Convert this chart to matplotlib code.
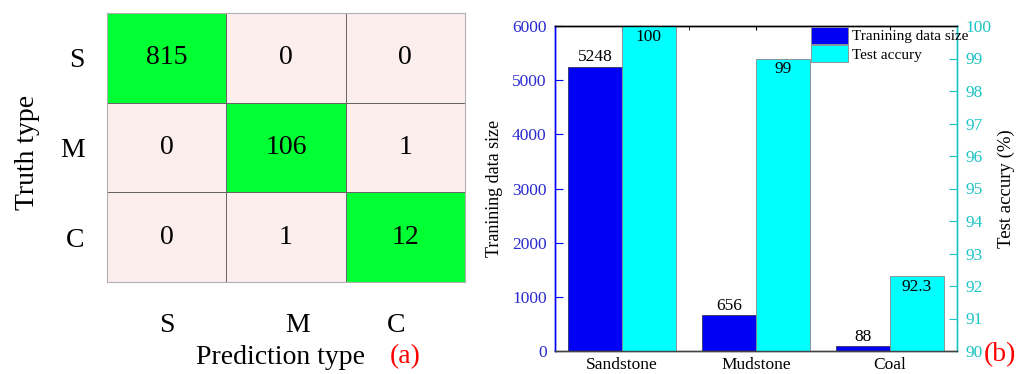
import numpy as np
import matplotlib
matplotlib.use("Agg")
import matplotlib.pyplot as plt
from matplotlib.colors import ListedColormap
from matplotlib.patches import Patch

plt.rcParams['font.family'] = ['Liberation Serif', 'DejaVu Serif']

# confusion matrix of the classifier (rows: truth, cols: prediction)
classes = ['S', 'M', 'C']
confusion = np.array([[815, 0, 0],
                      [0, 106, 1],
                      [0, 1, 12]])

# per-lithology training size and test accuracy
lithology = ['Sandstone', 'Mudstone', 'Coal']
train_size = [5248, 656, 88]
test_acc = [100, 99, 92.3]

blue = '#0000f5'
cyan = '#00ffff'
blue_text = '#2a2ad0'
cyan_text = '#1cc4c4'

fig = plt.figure(figsize=(10.26, 3.74), dpi=100)

# ---- (a) confusion matrix ----
ax1 = fig.add_axes([107 / 1026, 1 - 282 / 374, 358 / 1026, 269 / 374])
correct = np.eye(len(classes))
cmap = ListedColormap(['#fdeeee', '#00ff33'])
ax1.pcolormesh(correct, cmap=cmap, edgecolors='#666666', linewidth=0.6)
ax1.set_xlim(0, 3)
ax1.set_ylim(3, 0)

for i in range(len(classes)):
    for j in range(len(classes)):
        ax1.text(j + 0.5, i + 0.5, str(confusion[i, j]), ha='center', va='center',
                 fontsize=20, color='black')

ax1.set_yticks(np.arange(len(classes)) + 0.5)
ax1.set_yticklabels(classes, fontsize=20)
ax1.set_xticks([0.5, 1.6, 2.42])
ax1.set_xticklabels(classes, fontsize=20)
ax1.tick_params(length=0)
ax1.tick_params(axis='y', pad=16)
ax1.tick_params(axis='x', pad=22)
for sp in ax1.spines.values():
    sp.set_color('#b0b0b0')
    sp.set_linewidth(0.8)

fig.text(28 / 1026, 1 - 152 / 374, 'Truth type', rotation=90, ha='center', va='center',
         fontsize=20)
fig.text(281 / 1026, 1 - 357 / 374, 'Prediction type', ha='center', va='center', fontsize=20)
fig.text(405 / 1026, 1 - 357 / 374, '(a)', ha='center', va='center', fontsize=20, color='red')

# ---- (b) training size vs test accuracy ----
ax = fig.add_axes([555 / 1026, 1 - 351 / 374, 402 / 1026, 325 / 374])
ax2 = ax.twinx()
x = np.arange(len(lithology))
w = 0.4

bars1 = ax.bar(x - w / 2, train_size, w, color=blue, edgecolor='#333366', linewidth=0.6)
bars2 = ax2.bar(x + w / 2, test_acc, w, color=cyan, edgecolor='#888888', linewidth=0.6)

ax.set_xlim(-0.5, 2.5)
ax.set_ylim(0, 6000)
ax2.set_ylim(90, 100)

ax.bar_label(bars1, labels=[str(v) for v in train_size], padding=1, fontsize=12.5)
for b, v in zip(bars2, test_acc):
    ax2.annotate(f'{v:g}', (b.get_x() + b.get_width() / 2, b.get_height()),
                 xytext=(0, -2), textcoords='offset points', ha='center', va='top',
                 fontsize=12.5)

ax.set_xticks(x)
ax.set_xticklabels(lithology, fontsize=12.5)
ax.set_xticks(np.arange(-0.5, 2.6, 0.5), minor=True)
ax.tick_params(axis='x', bottom=False, top=True, direction='in', length=3, pad=4)
ax.tick_params(axis='x', which='minor', bottom=False, top=True, direction='in', length=3)

ax.set_yticks(np.arange(0, 6001, 1000))
ax.tick_params(axis='y', direction='in', length=6, color=blue, labelcolor=blue_text,
               labelsize=12.5, pad=6)
ax2.set_yticks(np.arange(90, 101, 1))
ax2.tick_params(axis='y', direction='in', length=6, color=cyan_text, labelcolor=cyan_text,
                labelsize=12.5, pad=6)

ax.set_ylabel('Tranining data size', fontsize=13)
ax2.set_ylabel('Test accury (%)', fontsize=13.5)
ax.yaxis.set_label_coords(-0.129, 0.5)
ax2.yaxis.set_label_coords(1.10, 0.5)

for a in (ax, ax2):
    a.spines['left'].set_color(blue)
    a.spines['right'].set_color(cyan_text)
    a.spines['bottom'].set_color('#444444')
    a.spines['top'].set_color('black')
    for sp in a.spines.values():
        sp.set_linewidth(1.0)

handles = [Patch(facecolor=blue, edgecolor='#888888', linewidth=0.6),
           Patch(facecolor=cyan, edgecolor='#888888', linewidth=0.6)]
ax2.legend(handles, ['Tranining data size', 'Test accury'], loc='upper left',
           bbox_to_anchor=(811 / 1026, 1 - 27 / 374), bbox_transform=fig.transFigure,
           frameon=False, fontsize=11, handlelength=2.4, handleheight=1.3,
           handletextpad=0.3, labelspacing=0.1, borderpad=0, borderaxespad=0)

fig.text(1000 / 1026, 1 - 355 / 374, '(b)', ha='center', va='center', fontsize=20, color='red')

fig.savefig('out.png', dpi=100)
